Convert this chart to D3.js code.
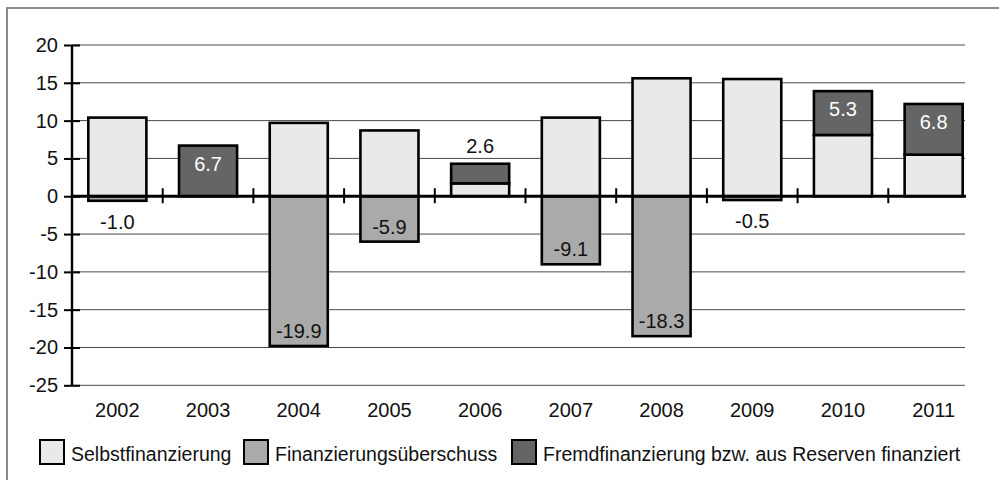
<!DOCTYPE html>
<html>
<head>
<meta charset="utf-8">
<script src="https://cdn.jsdelivr.net/npm/d3@7"></script>
<style>
  body { margin: 0; background: #fff; }
  svg { display: block; font-family: "Liberation Sans", Arial, sans-serif; }
</style>
</head>
<body>
<svg id="chart" width="999" height="480"></svg>
<script>

var years = ["2002","2003","2004","2005","2006","2007","2008","2009","2010","2011"];
var selbst = [10.4, 0, 9.7, 8.7, 1.7, 10.4, 15.6, 15.5, 8.1, 5.5];
var ueberschuss = [-0.6, 0, -19.8, -6.0, 0, -9.0, -18.5, -0.5, 0, 0];
var fremd = [0, 6.7, 0, 0, 2.6, 0, 0, 0, 5.8, 6.7];
var ueberschussLabels = ["-1.0", "", "-19.9", "-5.9", "", "-9.1", "-18.3", "-0.5", "", ""];
var fremdLabels = ["", "6.7", "", "", "2.6", "", "", "", "5.3", "6.8"];
var yTicks = [20, 15, 10, 5, 0, -5, -10, -15, -20, -25];
var legendNames = ["Selbstfinanzierung", "Finanzierungsüberschuss", "Fremdfinanzierung bzw. aus Reserven finanziert"];
var colors = ["#e9e9e9", "#aaaaaa", "#656565"];

var svg = d3.select("#chart");

var left = 72, right = 979, plotEnd = 965;

var x = d3.scaleBand()
    .domain(years)
    .range([left, right])
    .padding(0);

var y = d3.scaleLinear()
    .domain([-25, 20])
    .range([385.3, 45]);

var barW = x.bandwidth() * 0.64;

// outer frame (only top / left visible, picture is cropped)
svg.append("path")
    .attr("d", "M7,480 V8 H999")
    .attr("fill", "none")
    .attr("stroke", "#8a8a8a")
    .attr("stroke-width", 2);

// grid
svg.append("g").selectAll("line")
    .data(yTicks.filter(function(d) { return d != 0; }))
  .enter().append("line")
    .attr("x1", left)
    .attr("x2", plotEnd)
    .attr("y1", function(d) { return y(d); })
    .attr("y2", function(d) { return y(d); })
    .attr("stroke", "#4a4a4a")
    .attr("stroke-width", 1);

var data = years.map(function(yr, i) {
  return {year: yr, s: selbst[i], u: ueberschuss[i], f: fremd[i], ul: ueberschussLabels[i], fl: fremdLabels[i]};
});

var bars = svg.append("g");

function addBar(y0, y1, col, yr) {
  if (y0 == y1) return;
  bars.append("rect")
    .attr("x", x(yr) + (x.bandwidth() - barW) / 2)
    .attr("width", barW)
    .attr("y", y(Math.max(y0, y1)))
    .attr("height", Math.abs(y(y0) - y(y1)))
    .attr("fill", col)
    .attr("stroke", "#000")
    .attr("stroke-width", 2.6);
}

data.forEach(function(d) {
  addBar(0, d.s, colors[0], d.year);
  addBar(0, d.u, colors[1], d.year);
  addBar(d.s, d.s + d.f, colors[2], d.year);
});

// zero axis
svg.append("line")
    .attr("x1", left)
    .attr("x2", plotEnd + 1)
    .attr("y1", y(0))
    .attr("y2", y(0))
    .attr("stroke", "#000")
    .attr("stroke-width", 2.8);

// category ticks
svg.append("g").selectAll("line")
    .data(years.slice(1))
  .enter().append("line")
    .attr("x1", function(d) { return x(d); })
    .attr("x2", function(d) { return x(d); })
    .attr("y1", y(0) - 8)
    .attr("y2", y(0) + 7)
    .attr("stroke", "#000")
    .attr("stroke-width", 2);

// y axis
var yAxis = svg.append("g")
    .attr("transform", "translate(" + left + ",0)")
    .call(d3.axisLeft(y).tickValues(yTicks).tickSize(8).tickPadding(6)
      .tickFormat(function(d) { return String(d); }));

yAxis.select(".domain")
    .attr("d", "M0," + y(20) + "V" + y(-25))
    .attr("stroke-width", 2.4);
yAxis.selectAll(".tick line")
    .attr("x1", -8)
    .attr("x2", 8)
    .attr("stroke-width", 2);
yAxis.selectAll(".tick text")
    .attr("font-size", 20)
    .attr("font-family", "Liberation Sans, Arial, sans-serif")
    .attr("fill", "#111");

// year labels
svg.append("g").selectAll("text")
    .data(years)
  .enter().append("text")
    .attr("x", function(d) { return x(d) + x.bandwidth() / 2; })
    .attr("y", 417)
    .attr("text-anchor", "middle")
    .attr("font-size", 20)
    .attr("fill", "#111")
    .text(function(d) { return d; });

// value labels
var labels = svg.append("g").attr("font-size", 20).attr("text-anchor", "middle");

data.forEach(function(d) {
  var cx = x(d.year) + x.bandwidth() / 2;
  if (d.fl) {
    var top = y(d.s + d.f);
    var inside = y(d.s) - top > 25;
    labels.append("text")
      .attr("x", cx)
      .attr("y", inside ? top + 25 : top - 11)
      .attr("fill", inside ? "#fff" : "#111")
      .text(d.fl);
  }
  if (d.ul) {
    var bot = y(d.u);
    var inside2 = bot - y(0) > 25;
    labels.append("text")
      .attr("x", cx)
      .attr("y", inside2 ? bot - 8 : bot + 28)
      .attr("fill", "#111")
      .text(d.ul);
  }
});

// legend
var legendX = [40, 244, 512];
var legend = svg.append("g").selectAll("g")
    .data(legendNames)
  .enter().append("g")
    .attr("transform", function(d, i) { return "translate(" + legendX[i] + ",440)"; });

legend.append("rect")
    .attr("width", 24)
    .attr("height", 24)
    .attr("fill", function(d, i) { return colors[i]; })
    .attr("stroke", "#000")
    .attr("stroke-width", 2);

legend.append("text")
    .attr("x", 31)
    .attr("y", 21)
    .attr("font-size", 19.5)
    .attr("fill", "#111")
    .text(function(d) { return d; });

</script>
</body>
</html>
